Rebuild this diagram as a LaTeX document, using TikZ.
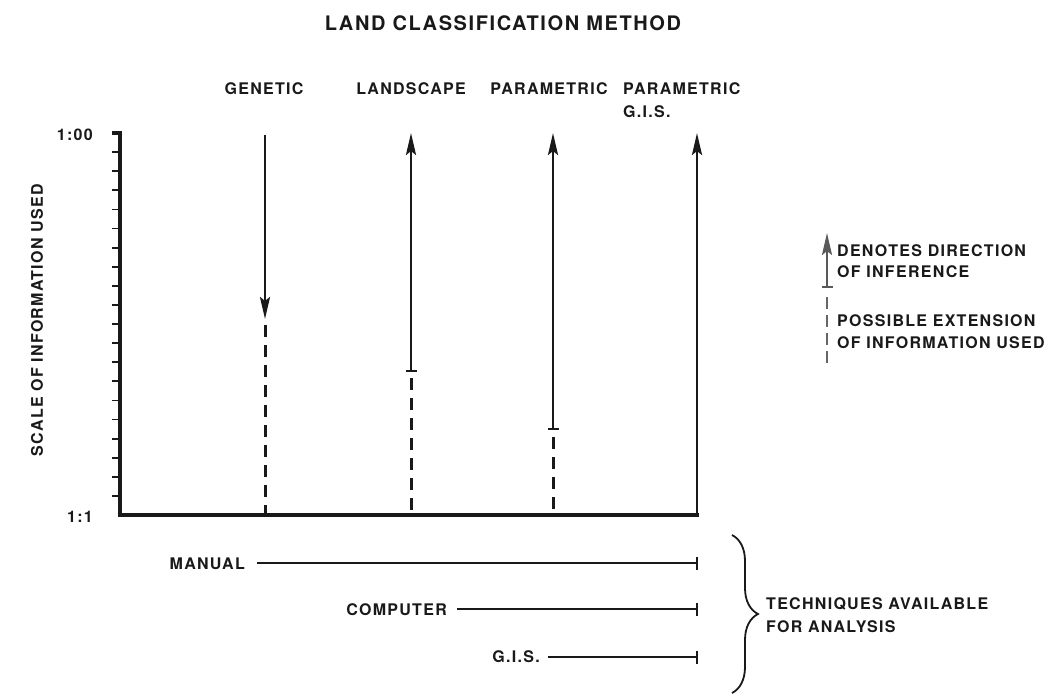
\documentclass[tikz,border=0pt]{standalone}
\usepackage{fontspec}
\setmainfont{TeX Gyre Heros}[LetterSpace=8]
\usetikzlibrary{arrows.meta,decorations.pathreplacing}
\begin{document}
\begin{tikzpicture}[x=1pt,y=-1pt,
  lbl/.style={font=\bfseries\fontsize{16}{18}\selectfont, inner sep=0pt, text=black!90},
  ttl/.style={font=\bfseries\fontsize{20}{22}\selectfont, inner sep=0pt, text=black!90},
  axisline/.style={line width=3.2pt, black!90},
  infline/.style={line width=2.6pt, black!90},
  extline/.style={line width=3pt, black!90, dash pattern=on 12pt off 8pt},
  techline/.style={line width=2.2pt, black!90},
  upar/.style={-{Stealth[length=22pt,width=10pt,inset=4pt]}},
  barup/.style={{Bar[width=11pt,line width=1.8pt]}-{Stealth[length=22pt,width=10pt,inset=4pt]}},
  tick/.style={line width=1.8pt, black!90}
]
\useasboundingbox (0,0) rectangle (1061,696);

% title
\node[ttl] (title) at (503,23) {LAND CLASSIFICATION METHOD};

% column headings
\node[lbl] (hgen) at (264,89) {GENETIC};
\node[lbl] (hland) at (411,89) {LANDSCAPE};
\node[lbl] (hpar) at (549,89) {PARAMETRIC};
\node[lbl, anchor=west] (hgis) at (623,89) {PARAMETRIC};
\node[lbl, anchor=west] (hgis2) at (623,112) {G.I.S.};

% axis
\coordinate (atop) at (120,133);
\coordinate (orig) at (120,515);
\coordinate (xend) at (699,515);
\draw[axisline] (112,133) -- (atop) -- (orig) -- (xend);
\foreach \i in {1,...,19} {
  \draw[tick] (112,{515-\i*19.1}) -- (120,{515-\i*19.1});
}
\node[lbl, anchor=east] (s100) at (93,135) {1:00};
\node[lbl, anchor=east] (s11) at (93,517) {1:1};
\node[lbl, rotate=90] (ylab) at (37,320) {SCALE OF INFORMATION USED};

% genetic
\coordinate (gtop) at (265,135);
\coordinate (gmid) at (265,319);
\coordinate (gbot) at (265,515);
\draw[infline, upar] (gtop) -- (gmid);
\draw[extline] (265,325) -- (gbot);

% landscape
\coordinate (ltop) at (411,133);
\coordinate (lmid) at (411,372);
\coordinate (lbot) at (411,515);
\draw[infline, barup] (lmid) -- (ltop);
\draw[extline] (411,378) -- (lbot);

% parametric
\coordinate (ptop) at (553,133);
\coordinate (pmid) at (553,430);
\coordinate (pbot) at (553,515);
\draw[infline, barup] (pmid) -- (ptop);
\draw[extline] (553,437) -- (pbot);

% parametric GIS
\coordinate (qtop) at (697,133);
\coordinate (qbot) at (697,515);
\draw[infline, upar] (qbot) -- (qtop);

% legend
\coordinate (legbot) at (827,288);
\coordinate (legtop) at (827,233);
\draw[line width=2.4pt, black!65, barup] (legbot) -- (legtop);
\draw[line width=1.2pt, black!60, dash pattern=on 12pt off 6pt] (827,297) -- (827,364);
\node[lbl, anchor=west] (l1) at (837,251) {DENOTES DIRECTION};
\node[lbl, anchor=west] (l2) at (837,272) {OF INFERENCE};
\node[lbl, anchor=west] (l3) at (837,321) {POSSIBLE EXTENSION};
\node[lbl, anchor=west] (l4) at (837,343) {OF INFORMATION USED};

% techniques
\node[lbl, anchor=east] (manual) at (245,564) {MANUAL};
\node[lbl, anchor=east] (computer) at (447,610) {COMPUTER};
\node[lbl, anchor=east] (gis) at (540,657) {G.I.S.};
\coordinate (mend) at (698,563);
\coordinate (cend) at (698,609);
\coordinate (gend) at (698,657);
\draw[techline, -{Bar[width=13pt,line width=2.4pt]}] ([xshift=12pt]manual.east |- mend) -- (mend);
\draw[techline, -{Bar[width=13pt,line width=2.4pt]}] ([xshift=10pt]computer.east |- cend) -- (cend);
\draw[techline, -{Bar[width=13pt,line width=2.4pt]}] ([xshift=8pt]gis.east |- gend) -- (gend);

\draw[line width=1.8pt, black!90, decorate, decoration={brace, amplitude=26pt}] (732,535) -- (732,693);
\node[lbl, anchor=west] (t1) at (766,604) {TECHNIQUES AVAILABLE};
\node[lbl, anchor=west] (t2) at (766,627) {FOR ANALYSIS};
\end{tikzpicture}
\end{document}
